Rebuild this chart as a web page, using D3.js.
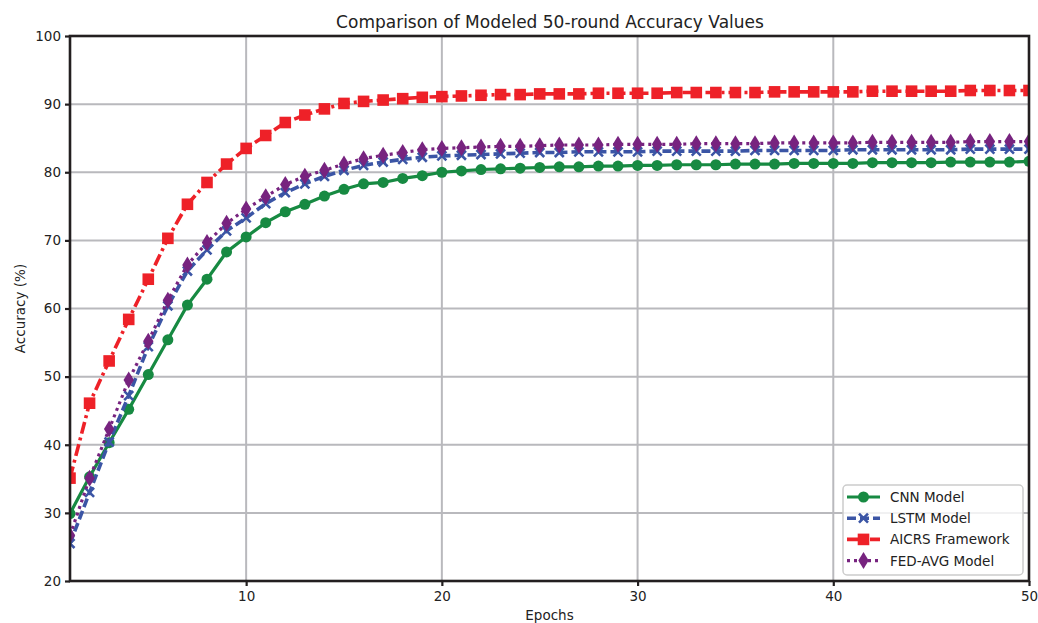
<!DOCTYPE html>
<html>
<head>
<meta charset="utf-8">
<script src="https://cdn.jsdelivr.net/npm/d3@7"></script>
<style>
  body { margin: 0; background: #fff; }
  text { font-family: "DejaVu Sans", sans-serif; fill: #222; }
</style>
</head>
<body>
<svg id="wykres"></svg>
<script>
// dane (epoki 1..50)
let epochs = d3.range(1, 51);

let cnn = [29.9, 35.3, 40.3, 45.2, 50.3, 55.4, 60.5, 64.3, 68.3, 70.5, 72.6, 74.2, 75.3, 76.5, 77.5, 78.3, 78.5, 79.1, 79.5, 80.0,
  80.2, 80.4, 80.5, 80.6, 80.7, 80.8, 80.8, 80.9, 80.9, 81.0, 81.0, 81.1, 81.1, 81.1, 81.2, 81.2, 81.2, 81.3, 81.3, 81.3,
  81.3, 81.4, 81.4, 81.4, 81.4, 81.5, 81.5, 81.5, 81.5, 81.6];
let lstm = [25.5, 33.0, 40.4, 47.2, 54.4, 60.4, 65.5, 68.6, 71.4, 73.3, 75.4, 77.0, 78.3, 79.4, 80.3, 81.0, 81.5, 81.9, 82.2, 82.4,
  82.5, 82.6, 82.7, 82.8, 82.9, 82.9, 83.0, 83.0, 83.0, 83.0, 83.1, 83.1, 83.1, 83.1, 83.1, 83.2, 83.2, 83.2, 83.2, 83.2,
  83.3, 83.3, 83.3, 83.3, 83.3, 83.3, 83.4, 83.4, 83.4, 83.4];
let aicrs = [35.1, 46.1, 52.3, 58.4, 64.3, 70.3, 75.3, 78.5, 81.2, 83.5, 85.4, 87.3, 88.4, 89.3, 90.1, 90.4, 90.6, 90.8, 91.0, 91.1,
  91.2, 91.3, 91.4, 91.4, 91.5, 91.5, 91.5, 91.6, 91.6, 91.6, 91.6, 91.7, 91.7, 91.7, 91.7, 91.7, 91.8, 91.8, 91.8, 91.8,
  91.8, 91.9, 91.9, 91.9, 91.9, 91.9, 92.0, 92.0, 92.0, 92.0];
let fedavg = [26.7, 35.1, 42.3, 49.5, 55.2, 61.2, 66.4, 69.7, 72.5, 74.6, 76.4, 78.2, 79.4, 80.3, 81.2, 82.0, 82.5, 82.9, 83.3, 83.5,
  83.6, 83.7, 83.8, 83.8, 83.9, 84.0, 84.0, 84.0, 84.1, 84.1, 84.1, 84.1, 84.2, 84.2, 84.2, 84.2, 84.3, 84.3, 84.3, 84.3,
  84.3, 84.4, 84.4, 84.4, 84.4, 84.4, 84.5, 84.5, 84.5, 84.5];

let seriesNames = ['CNN Model', 'LSTM Model', 'AICRS Framework', 'FED-AVG Model'];
let xTicks = [10, 20, 30, 40, 50];
let yTicks = [20, 30, 40, 50, 60, 70, 80, 90, 100];

let W = 1038, H = 623;
let m = { left: 70, right: 1029, top: 36, bottom: 581 };

let svg = d3.select('#wykres').attr('width', W).attr('height', H);

let x = d3.scaleLinear().domain([1, 50]).range([m.left, m.right]);
let y = d3.scaleLinear().domain([20, 100]).range([m.bottom, m.top]);

svg.append('clipPath').attr('id', 'clip')
  .append('rect')
  .attr('x', m.left).attr('y', m.top)
  .attr('width', m.right - m.left).attr('height', m.bottom - m.top);

// siatka
let grid = svg.append('g');
grid.selectAll('line.v').data(xTicks).enter().append('line')
  .attr('x1', d => x(d)).attr('x2', d => x(d))
  .attr('y1', m.top).attr('y2', m.bottom)
  .attr('stroke', '#b9b9bd').attr('stroke-width', 2);
grid.selectAll('line.h').data(yTicks).enter().append('line')
  .attr('y1', d => y(d)).attr('y2', d => y(d))
  .attr('x1', m.left).attr('x2', m.right)
  .attr('stroke', '#b9b9bd').attr('stroke-width', 2);

// serie
let series = [
  { name: seriesNames[0], values: cnn, color: '#178a42', dash: null, width: 3.2, marker: 'circle' },
  { name: seriesNames[1], values: lstm, color: '#3b55a5', dash: '9,4', width: 3.6, marker: 'x' },
  { name: seriesNames[2], values: aicrs, color: '#ee2128', dash: '12,4,3,4', width: 3.6, marker: 'square' },
  { name: seriesNames[3], values: fedavg, color: '#77237f', dash: '3,4', width: 3.2, marker: 'diamond' }
];

function drawMarker(g, s, cx, cy, scale) {
  scale = scale || 1;
  if (s.marker === 'circle') {
    g.append('circle').attr('cx', cx).attr('cy', cy).attr('r', 5.5 * scale).attr('fill', s.color);
  } else if (s.marker === 'x') {
    let r = 4.5 * scale;
    g.append('path')
      .attr('d', `M${cx - r},${cy - r}L${cx + r},${cy + r}M${cx - r},${cy + r}L${cx + r},${cy - r}`)
      .attr('stroke', s.color).attr('stroke-width', 2.6).attr('fill', 'none');
  } else if (s.marker === 'square') {
    let r = 5.8 * scale;
    g.append('rect').attr('x', cx - r).attr('y', cy - r).attr('width', 2 * r).attr('height', 2 * r).attr('fill', s.color);
  } else if (s.marker === 'diamond') {
    let w = 5.2 * scale, h = 8.5 * scale;
    g.append('path')
      .attr('d', `M${cx},${cy - h}L${cx + w},${cy}L${cx},${cy + h}L${cx - w},${cy}Z`)
      .attr('fill', s.color);
  }
}

let plot = svg.append('g').attr('clip-path', 'url(#clip)');
let line = d3.line().x((d, i) => x(epochs[i])).y(d => y(d));

series.forEach(s => {
  let g = plot.append('g');
  g.append('path')
    .datum(s.values)
    .attr('d', line)
    .attr('fill', 'none')
    .attr('stroke', s.color)
    .attr('stroke-width', s.width)
    .attr('stroke-dasharray', s.dash);
  s.values.forEach((v, i) => drawMarker(g, s, x(epochs[i]), y(v)));
});

// ramka i osie
svg.append('rect')
  .attr('x', m.left).attr('y', m.top)
  .attr('width', m.right - m.left).attr('height', m.bottom - m.top)
  .attr('fill', 'none').attr('stroke', '#231f20').attr('stroke-width', 2.6);

let xAxis = d3.axisBottom(x).tickValues(xTicks).tickSize(5).tickPadding(5);
let yAxis = d3.axisLeft(y).tickValues(yTicks).tickSize(5).tickPadding(4);

let gx = svg.append('g').attr('transform', `translate(0,${m.bottom})`).call(xAxis);
let gy = svg.append('g').attr('transform', `translate(${m.left},0)`).call(yAxis);
[gx, gy].forEach(g => {
  g.select('.domain').remove();
  g.selectAll('line').attr('stroke', '#231f20').attr('stroke-width', 2.2);
  g.selectAll('text').style('font-family', '"DejaVu Sans", sans-serif').style('font-size', '13.5px').attr('fill', '#222');
});

// tytuły
svg.append('text').attr('x', 550).attr('y', 28)
  .attr('text-anchor', 'middle').style('font-size', '17px')
  .text('Comparison of Modeled 50-round Accuracy Values');
svg.append('text').attr('x', (m.left + m.right) / 2).attr('y', 620)
  .attr('text-anchor', 'middle').style('font-size', '13.5px')
  .text('Epochs');
svg.append('text')
  .attr('transform', `translate(25,${(m.top + m.bottom) / 2}) rotate(-90)`)
  .attr('text-anchor', 'middle').style('font-size', '13.5px')
  .text('Accuracy (%)');

// legenda
let leg = svg.append('g').attr('transform', 'translate(843,485)');
leg.append('rect').attr('width', 180).attr('height', 90).attr('rx', 4)
  .attr('fill', 'rgba(255,255,255,0.8)').attr('stroke', '#cccccc').attr('stroke-width', 1.5);
series.forEach((s, i) => {
  let cy = 12 + i * 21.2;
  let g = leg.append('g');
  g.append('line').attr('x1', 4).attr('x2', 37).attr('y1', cy).attr('y2', cy)
    .attr('stroke', s.color).attr('stroke-width', s.width).attr('stroke-dasharray', s.dash);
  drawMarker(g, s, 20.5, cy);
  g.append('text').attr('x', 47).attr('y', cy + 5).style('font-size', '13.5px').text(s.name);
});
</script>
</body>
</html>
